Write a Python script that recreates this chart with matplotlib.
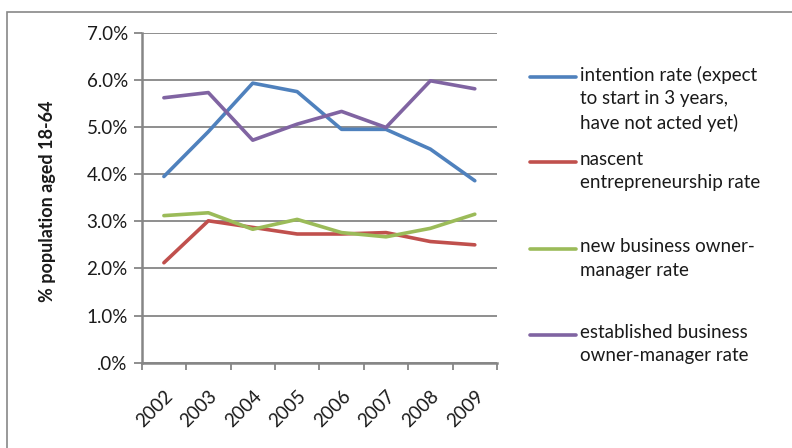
import matplotlib.pyplot as plt
from matplotlib.lines import Line2D
from matplotlib.patches import Rectangle

plt.rcParams['font.family'] = ['Lato', 'DejaVu Sans']

# Data
years = ["2002", "2003", "2004", "2005", "2006", "2007", "2008", "2009"]
intention = [3.95, 4.90, 5.93, 5.75, 4.95, 4.95, 4.53, 3.86]
nascent = [2.12, 3.01, 2.87, 2.73, 2.73, 2.76, 2.57, 2.50]
new_business = [3.12, 3.18, 2.83, 3.04, 2.76, 2.67, 2.85, 3.15]
established = [5.62, 5.73, 4.72, 5.06, 5.33, 4.99, 5.98, 5.81]

labels = [
    "intention rate (expect\nto start in 3 years,\nhave not acted yet)",
    "nascent\nentrepreneurship rate",
    "new business owner-\nmanager rate",
    "established business\nowner-manager rate",
]
colors = ["#4F81BD", "#C0504D", "#9BBB59", "#8064A2"]
y_ticks = [0, 1, 2, 3, 4, 5, 6, 7]
y_tick_labels = [".0%", "1.0%", "2.0%", "3.0%", "4.0%", "5.0%", "6.0%", "7.0%"]

W, H = 792, 448
fig = plt.figure(figsize=(W / 100, H / 100), dpi=100)
ax = fig.add_axes([141.7 / W, 1 - 362.7 / H, (497 - 141.7) / W, (362.7 - 32.7) / H])

# outer chart border
fig.patches.append(Rectangle((7 / W, -0.1), 1.2, 1 - 12 / H + 0.1, transform=fig.transFigure,
                             fill=False, edgecolor="#888888", linewidth=1.2))

x = range(len(years))
series = [intention, nascent, new_business, established]
for vals, c in zip(series, colors):
    ax.plot(x, vals, color=c, linewidth=2.6, solid_capstyle="round", zorder=3)

ax.set_xlim(-0.5, len(years) - 0.5)
ax.set_ylim(0, 7)
ax.set_yticks(y_ticks)
ax.set_yticklabels(y_tick_labels)
ax.yaxis.grid(True, color="#868686", linewidth=1.3)
ax.set_axisbelow(True)

ax.set_xticks([i - 0.5 for i in range(len(years) + 1)], minor=True)
ax.set_xticks(list(x))
ax.set_xticklabels(years, rotation=45, ha="right", rotation_mode="anchor")
ax.tick_params(axis="x", which="major", length=0, pad=18, labelsize=13.5, labelcolor="#1a1a1a")
ax.tick_params(axis="x", which="minor", length=5, width=1.3, color="#868686", direction="out")
ax.tick_params(axis="y", length=6, width=1.3, color="#868686", labelsize=13.5, pad=4,
               labelcolor="#1a1a1a")

for s in ["top", "right"]:
    ax.spines[s].set_visible(False)
for s in ["left", "bottom"]:
    ax.spines[s].set_color("#868686")
    ax.spines[s].set_linewidth(1.8)

fig.text(48 / W, 1 - 201 / H, "% population aged 18-64", rotation=90, fontsize=13,
         fontweight="bold", ha="center", va="center", color="#1a1a1a")

# legend, one slot per series like the original
slot_y = [76.7, 161.7, 249.3, 335]
for lab, c, yy in zip(labels, colors, slot_y):
    fig.lines.append(Line2D([530 / W, 576 / W], [1 - yy / H, 1 - yy / H], transform=fig.transFigure,
                            color=c, linewidth=2.6, solid_capstyle="round"))
    fig.text(580 / W, 1 - (yy - 11) / H, lab, fontsize=13.5, ha="left", va="top",
             linespacing=1.45, color="#1a1a1a")

fig.savefig("out.png", dpi=100)
